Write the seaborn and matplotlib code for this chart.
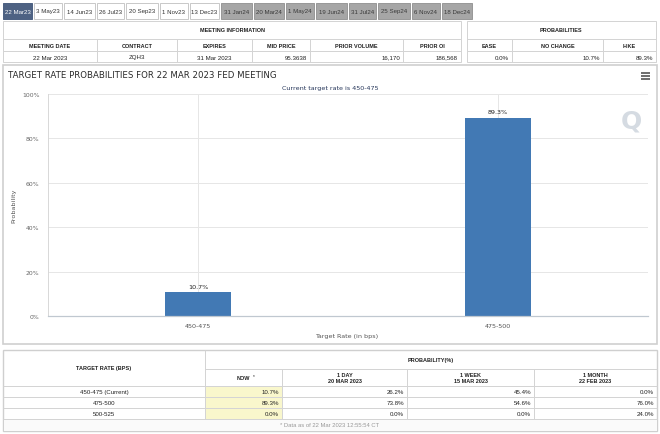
import matplotlib
matplotlib.use("Agg")
import matplotlib.pyplot as plt
import seaborn as sns
import pandas as pd
from matplotlib.patches import Rectangle

# ---------------- data ----------------
TAB_LABELS = ["22 Mar23", "3 May23", "14 Jun23", "26 Jul23", "20 Sep23", "1 Nov23",
              "13 Dec23", "31 Jan24", "20 Mar24", "1 May24", "19 Jun24", "31 Jul24",
              "25 Sep24", "6 Nov24", "18 Dec24"]
MEETING_HEADERS = ["MEETING DATE", "CONTRACT", "EXPIRES", "MID PRICE", "PRIOR VOLUME", "PRIOR OI"]
MEETING_VALUES = ["22 Mar 2023", "ZQH3", "31 Mar 2023", "95.3638", "16,170", "186,568"]
PROB_HEADERS = ["EASE", "NO CHANGE", "HIKE"]
PROB_VALUES = ["0.0%", "10.7%", "89.3%"]

categories = ["450-475", "475-500"]
probabilities = [10.7, 89.3]
y_ticks = [0, 20, 40, 60, 80, 100]

CHART_TITLE = "TARGET RATE PROBABILITIES FOR 22 MAR 2023 FED MEETING"
CHART_SUBTITLE = "Current target rate is 450-475"
X_LABEL = "Target Rate (in bps)"
Y_LABEL = "Probability"

TABLE_RATES = ["450-475 (Current)", "475-500", "500-525"]
TABLE_NOW = ["10.7%", "89.3%", "0.0%"]
TABLE_1DAY = ["26.2%", "73.8%", "0.0%"]
TABLE_1WEEK = ["45.4%", "54.6%", "0.0%"]
TABLE_1MONTH = ["0.0%", "76.0%", "24.0%"]
TABLE_COL_HEADERS = [("NOW", ""), ("1 DAY", "20 MAR 2023"), ("1 WEEK", "15 MAR 2023"),
                     ("1 MONTH", "22 FEB 2023")]
FOOTNOTE = "* Data as of 22 Mar 2023 12:55:54 CT"

# ---------------- figure ----------------
W, H = 660, 435
fig = plt.figure(figsize=(W / 100, H / 100), dpi=100)
fig.patch.set_facecolor("white")

bg = fig.add_axes([0, 0, 1, 1], zorder=0)
bg.set_xlim(0, W)
bg.set_ylim(H, 0)
bg.axis("off")

TF = "Liberation Sans"
BORDER = "#d4d4d4"
LW = 0.72


def rect(x0, y0, x1, y1, fc="none", ec=BORDER, lw=LW, z=1):
    bg.add_patch(Rectangle((x0, y0), x1 - x0, y1 - y0, facecolor=fc, edgecolor=ec,
                           linewidth=lw, zorder=z))


def hline(y, x0, x1, c=BORDER, lw=LW):
    bg.plot([x0, x1], [y, y], color=c, lw=lw, zorder=2, solid_capstyle="butt")


def vline(x, y0, y1, c=BORDER, lw=LW):
    bg.plot([x, x], [y0, y1], color=c, lw=lw, zorder=2, solid_capstyle="butt")


def txt(x, y, s, ha="center", size=4.3, weight="normal", color="#222222", family=TF, **kw):
    bg.text(x, y, s, ha=ha, va="center", fontsize=size, fontweight=weight, color=color,
            family=family, zorder=3, **kw)


# ---- tabs ----
tab_pos = [(3, 32), (34, 62), (64, 95), (97, 124), (126, 158), (160, 188), (190, 219),
           (221, 252), (254, 284), (286, 314), (316, 347), (349, 376), (378, 410),
           (412, 440), (442, 472)]
for i, (lab, (a, b)) in enumerate(zip(TAB_LABELS, tab_pos)):
    if i == 0:
        fc, ec, tc = "#4e6283", "#4e6283", "white"
    elif i < 7:
        fc, ec, tc = "white", "#c9c9c9", "#333333"
    else:
        fc, ec, tc = "#a6a6a6", "#999999", "#3a3a3a"
    rect(a, 4, b, 19.5, fc=fc, ec=ec)
    txt((a + b) / 2, 12, lab, size=4.4, color=tc)

# ---- meeting information table ----
rect(3, 22, 461, 63, fc="white")
hline(40, 3, 461)
hline(52, 3, 461)
m_cols = [3, 97, 177, 252, 310, 403, 461]
for x in m_cols[1:-1]:
    vline(x, 40, 63)
txt(232, 31, "MEETING INFORMATION", weight="bold", size=4.0)
for j, (h, v) in enumerate(zip(MEETING_HEADERS, MEETING_VALUES)):
    a, b = m_cols[j], m_cols[j + 1]
    txt((a + b) / 2, 46.3, h, weight="bold", size=4.0)
    if j < 3:
        txt((a + b) / 2, 58, v, size=4.4)
    else:
        txt(b - 3, 58, v, ha="right", size=4.4)

rect(467, 22, 656, 63, fc="white")
hline(40, 467, 656)
hline(52, 467, 656)
p_cols = [467, 512, 603, 656]
for x in p_cols[1:-1]:
    vline(x, 40, 63)
txt(561, 31, "PROBABILITIES", weight="bold", size=4.0)
for j, (h, v) in enumerate(zip(PROB_HEADERS, PROB_VALUES)):
    a, b = p_cols[j], p_cols[j + 1]
    txt((a + b) / 2, 46.3, h, weight="bold", size=4.0)
    txt(b - 3, 58, v, ha="right", size=4.4)

# ---- chart panel ----
rect(3, 66, 657, 345, fc="white", ec="#cfcfcf", lw=1.2)
txt(8, 75.5, CHART_TITLE, ha="left", size=6.2, color="#2a2a2a", family="DejaVu Sans")
txt(330, 88.5, CHART_SUBTITLE, size=4.6, color="#26365a", family="DejaVu Sans")
for dy in (-2.6, 0, 2.6):
    hline(77 + dy, 641, 650, c="#555555", lw=1.2)
txt(631, 121, "Q", size=18, weight="bold", color="#d5dbe2", family="DejaVu Sans")
txt(347, 337, X_LABEL, size=4.6, color="#555555", family="DejaVu Sans")
bg.text(14, 206, Y_LABEL, rotation=90, ha="center", va="center", fontsize=4.6,
        color="#555555", family="DejaVu Sans", zorder=3)

# ---- bottom probability table ----
rect(3, 351, 657, 432, fc="white", ec="#cfcfcf", lw=1.0)
bg.add_patch(Rectangle((205, 387), 282 - 205, 420 - 387, facecolor="#f9f7cc",
                       edgecolor="none", zorder=1.5))
bg.add_patch(Rectangle((3.5, 420), 653, 11.5, facecolor="#fafafa", edgecolor="none",
                       zorder=1.5))
hline(370, 205, 657)
for y in (387, 398, 409, 420):
    hline(y, 3, 657)
vline(205, 351, 420)
b_cols = [205, 282, 407, 534, 657]
for x in b_cols[1:-1]:
    vline(x, 370, 420)
txt(104, 369, "TARGET RATE (BPS)", weight="bold", size=4.0)
txt(431, 361, "PROBABILITY(%)", weight="bold", size=4.0)
for j, (l1, l2) in enumerate(TABLE_COL_HEADERS):
    a, b = b_cols[j], b_cols[j + 1]
    if l2:
        txt((a + b) / 2, 375.3, l1, weight="bold", size=4.0)
        txt((a + b) / 2, 381.8, l2, weight="bold", size=4.0)
    else:
        txt((a + b) / 2, 379, l1, weight="bold", size=4.0)
        txt((a + b) / 2 + 10, 376.5, "*", size=3.4)
cols_vals = [TABLE_NOW, TABLE_1DAY, TABLE_1WEEK, TABLE_1MONTH]
for i, rlab in enumerate(TABLE_RATES):
    yc = 392.7 + i * 11
    txt(104, yc, rlab, size=4.4)
    for j, colv in enumerate(cols_vals):
        txt(b_cols[j + 1] - 3, yc, colv[i], ha="right", size=4.4)
txt(330, 426, FOOTNOTE, size=4.2, color="#999999")

# ---------------- the chart itself ----------------
L, R, T, B = 48, 648, 95, 317
ax = fig.add_axes([L / W, 1 - B / H, (R - L) / W, (B - T) / H], zorder=2)
ax.set_facecolor("none")
df = pd.DataFrame({"rate": categories, "prob": probabilities})
sns.barplot(data=df, x="rate", y="prob", ax=ax, color="#4279b4", width=0.22,
            saturation=1, edgecolor="none")
ax.set_xlim(-0.5, len(categories) - 0.5)
ax.set_ylim(0, 100)
ax.set_yticks(y_ticks)
ax.set_yticklabels([f"{t}%" for t in y_ticks], fontsize=4.4, color="#666666",
                   family="DejaVu Sans")
ax.tick_params(axis="x", labelsize=4.6, labelcolor="#555555", length=0, pad=5)
ax.tick_params(axis="y", length=0, pad=6)
for lab in ax.get_xticklabels():
    lab.set_family("DejaVu Sans")
ax.set_xlabel("")
ax.set_ylabel("")
ax.grid(True, color="#e6e6e6", linewidth=0.7)
ax.set_axisbelow(True)
for s in ("top", "right"):
    ax.spines[s].set_visible(False)
ax.spines["left"].set_color("#d8d8d8")
ax.spines["left"].set_linewidth(0.7)
ax.spines["bottom"].set_color("#c0c8d0")
ax.spines["bottom"].set_linewidth(0.9)
for cont in ax.containers:
    ax.bar_label(cont, labels=[f"{v:.1f}%" for v in probabilities], padding=2.5,
                 fontsize=4.6, color="#222222", family="DejaVu Sans")

fig.savefig("out.png", dpi=100, facecolor=fig.get_facecolor())
